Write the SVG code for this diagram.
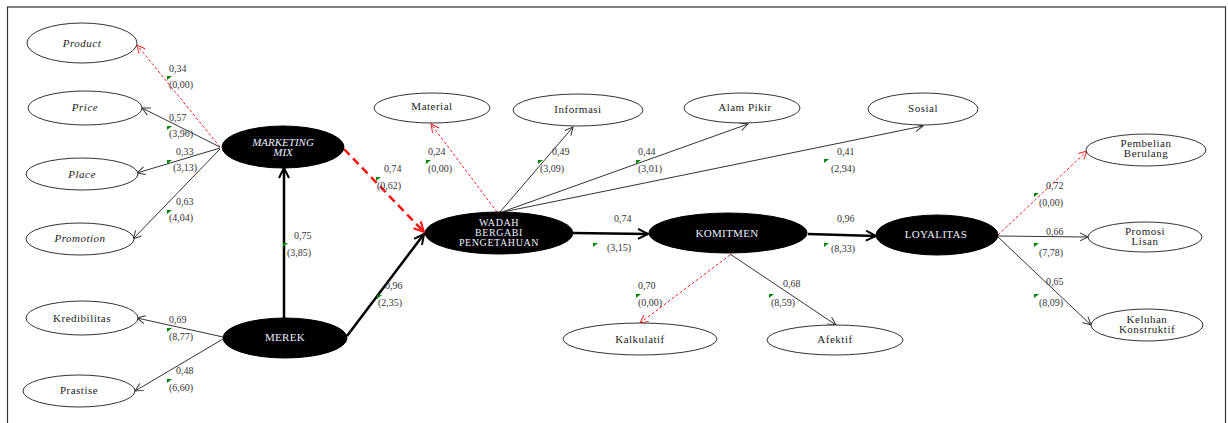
<svg xmlns="http://www.w3.org/2000/svg" xmlns:xlink="http://www.w3.org/1999/xlink" width="1228" height="423" viewBox="0 0 1228 423">
<style>
.ind{fill:#fff;stroke:#333;stroke-width:1}
.lat{fill:#000;stroke:#000;stroke-width:1}
.it{font-family:"Liberation Serif","Times New Roman",serif;font-size:11px;font-style:italic;fill:#222;text-anchor:middle;letter-spacing:0.5px}
.nt{font-family:"Liberation Serif","Times New Roman",serif;font-size:11px;fill:#222;text-anchor:middle;letter-spacing:0.5px}
.lt{font-family:"Liberation Serif","Times New Roman",serif;font-size:11px;fill:#eef;text-anchor:middle;letter-spacing:0.3px}
.lts{font-family:"Liberation Serif","Times New Roman",serif;font-size:10px;fill:#eef;text-anchor:middle;letter-spacing:0.6px}
.lti{font-family:"Liberation Serif","Times New Roman",serif;font-size:11px;font-style:italic;fill:#eef;text-anchor:middle}
.el{font-family:"Liberation Serif","Times New Roman",serif;font-size:10px;fill:#333}
.thin{stroke:#333;stroke-width:1;fill:none;marker-end:url(#aThin)}
.thick{stroke:#000;stroke-width:2.5;fill:none;marker-end:url(#aThick)}
.rthin{stroke:#f22;stroke-width:1;fill:none;stroke-dasharray:3,2;marker-end:url(#aRed)}
.rthick{stroke:#f11;stroke-width:2.5;fill:none;stroke-dasharray:8,5;marker-end:url(#aRedThick)}
</style>
<defs>
<marker id="aThin" markerUnits="userSpaceOnUse" markerWidth="12" markerHeight="12" refX="9" refY="5" orient="auto"><path d="M1,1 L9,5 L1,9" fill="none" stroke="#333" stroke-width="1"/></marker>
<marker id="aThick" markerUnits="userSpaceOnUse" markerWidth="14" markerHeight="14" refX="11" refY="6" orient="auto"><path d="M1,1 L11,6 L1,11" fill="none" stroke="#000" stroke-width="2"/></marker>
<marker id="aRed" markerUnits="userSpaceOnUse" markerWidth="12" markerHeight="12" refX="9" refY="5" orient="auto"><path d="M1,1 L9,5 L1,9" fill="none" stroke="#f22" stroke-width="1"/></marker>
<marker id="aRedThick" markerUnits="userSpaceOnUse" markerWidth="14" markerHeight="14" refX="11" refY="6" orient="auto"><path d="M1,1 L11,6 L1,11" fill="none" stroke="#f11" stroke-width="2"/></marker>
<path id="g" d="M0,0h5l-5,4z" fill="#080"/>
</defs>
<rect x="0" y="0" width="1228" height="423" fill="#fff"/>
<rect x="7.5" y="7" width="1218" height="430" fill="none" stroke="#333" stroke-width="1.2"/>

<g id="connectors">
<line class="rthin" x1="220" y1="147" x2="137" y2="45"/>
<line class="thin" x1="220" y1="147" x2="142" y2="108"/>
<line class="thin" x1="220" y1="148" x2="137" y2="173"/>
<line class="thin" x1="220" y1="149" x2="133" y2="239"/>
<line class="thick" x1="284" y1="318" x2="284" y2="168"/>
<line class="thin" x1="223" y1="337" x2="137" y2="318"/>
<line class="thin" x1="223" y1="339" x2="135" y2="391"/>
<line class="thick" x1="347" y1="336" x2="424" y2="234"/>
<line class="rthick" x1="344" y1="149" x2="424" y2="232"/>
<line class="rthin" x1="497" y1="212" x2="431" y2="124"/>
<line class="thin" x1="500" y1="212" x2="573" y2="127"/>
<line class="thin" x1="502" y1="212" x2="748" y2="124"/>
<line class="thin" x1="503" y1="212" x2="923" y2="126"/>
<line class="thick" x1="573" y1="233" x2="648" y2="234"/>
<line class="thick" x1="808" y1="234" x2="876" y2="236"/>
<line class="rthin" x1="730" y1="255" x2="640" y2="323"/>
<line class="thin" x1="730" y1="254" x2="836" y2="325"/>
<line class="rthin" x1="998" y1="235" x2="1087" y2="151"/>
<line class="thin" x1="998" y1="236" x2="1088" y2="237"/>
<line class="thin" x1="998" y1="237" x2="1091" y2="325"/>
</g>

<g id="edge-labels">
<text class="el" x="169" y="72">0,34</text><use href="#g" x="167" y="76"/><text class="el" x="169" y="88">(0,00)</text>
<text class="el" x="169" y="121">0,57</text><use href="#g" x="167" y="126"/><text class="el" x="169" y="137">(3,96)</text>
<text class="el" x="176" y="155">0,33</text><use href="#g" x="167" y="160"/><text class="el" x="173" y="171">(3,13)</text>
<text class="el" x="176" y="205">0,63</text><use href="#g" x="167" y="210"/><text class="el" x="169" y="221">(4,04)</text>
<text class="el" x="294" y="239">0,75</text><use href="#g" x="283" y="243"/><text class="el" x="287" y="256">(3,85)</text>
<text class="el" x="385" y="289">0,96</text><use href="#g" x="377" y="295"/><text class="el" x="378" y="306">(2,35)</text>
<text class="el" x="169" y="323">0,69</text><use href="#g" x="167" y="328"/><text class="el" x="169" y="340">(8,77)</text>
<text class="el" x="176" y="374">0,48</text><use href="#g" x="167" y="379"/><text class="el" x="169" y="391">(6,60)</text>
<text class="el" x="384" y="172">0,74</text><use href="#g" x="376" y="177"/><text class="el" x="377" y="189">(0,62)</text>
<text class="el" x="428" y="155">0,24</text><use href="#g" x="426" y="160"/><text class="el" x="428" y="172">(0,00)</text>
<text class="el" x="552" y="155">0,49</text><use href="#g" x="538" y="160"/><text class="el" x="540" y="172">(3,09)</text>
<text class="el" x="638" y="155">0,44</text><use href="#g" x="636" y="160"/><text class="el" x="638" y="172">(3,01)</text>
<text class="el" x="837" y="155">0,41</text><use href="#g" x="824" y="159"/><text class="el" x="831" y="172">(2,94)</text>
<text class="el" x="614" y="222">0,74</text><use href="#g" x="593" y="243"/><text class="el" x="607" y="251">(3,15)</text>
<text class="el" x="837" y="222">0,96</text><use href="#g" x="824" y="243"/><text class="el" x="831" y="252">(8,33)</text>
<text class="el" x="638" y="289">0,70</text><use href="#g" x="636" y="294"/><text class="el" x="638" y="306">(0,00)</text>
<text class="el" x="783" y="287">0,68</text><use href="#g" x="769" y="294"/><text class="el" x="771" y="306">(8,59)</text>
<text class="el" x="1046" y="189">0,72</text><use href="#g" x="1034" y="193"/><text class="el" x="1039" y="206">(0,00)</text>
<text class="el" x="1046" y="235">0,66</text><use href="#g" x="1034" y="243"/><text class="el" x="1039" y="256">(7,78)</text>
<text class="el" x="1046" y="285">0,65</text><use href="#g" x="1034" y="294"/><text class="el" x="1039" y="306">(8,09)</text>
</g>

<g id="product"><ellipse class="ind" cx="82" cy="43" rx="55" ry="20"/><text class="it" x="82" y="47">Product</text></g>
<g id="price"><ellipse class="ind" cx="85" cy="108" rx="57" ry="17"/><text class="it" x="85" y="111">Price</text></g>
<g id="place"><ellipse class="ind" cx="82" cy="174" rx="56" ry="16"/><text class="it" x="82" y="178">Place</text></g>
<g id="promotion"><ellipse class="ind" cx="80" cy="239" rx="54" ry="16"/><text class="it" x="80" y="242">Promotion</text></g>
<g id="kredibilitas"><ellipse class="ind" cx="82" cy="318" rx="56" ry="17"/><text class="nt" x="82" y="322">Kredibilitas</text></g>
<g id="prastise"><ellipse class="ind" cx="79" cy="391" rx="56" ry="16"/><text class="nt" x="79" y="394">Prastise</text></g>
<g id="marketing-mix"><ellipse class="lat" cx="283" cy="147" rx="61" ry="21"/><text class="lti" x="283" y="146">MARKETING</text><text class="lti" x="283" y="156">MIX</text></g>
<g id="merek"><ellipse class="lat" cx="285" cy="338" rx="62" ry="20"/><text class="lt" x="285" y="341">MEREK</text></g>
<g id="material"><ellipse class="ind" cx="432" cy="108" rx="58" ry="15"/><text class="nt" x="432" y="110">Material</text></g>
<g id="informasi"><ellipse class="ind" cx="578" cy="110" rx="65" ry="16"/><text class="nt" x="578" y="113">Informasi</text></g>
<g id="alam-pikir"><ellipse class="ind" cx="742" cy="108" rx="58" ry="15"/><text class="nt" x="745" y="111">Alam Pikir</text></g>
<g id="sosial"><ellipse class="ind" cx="923" cy="109" rx="55" ry="16"/><text class="nt" x="923" y="112">Sosial</text></g>
<g id="wadah"><ellipse class="lat" cx="499" cy="233" rx="74" ry="21"/><text class="lts" x="499" y="226">WADAH</text><text class="lts" x="499" y="236">BERGABI</text><text class="lts" x="499" y="246">PENGETAHUAN</text></g>
<g id="komitmen"><ellipse class="lat" cx="728" cy="233" rx="79" ry="20"/><text class="lt" x="727" y="237">KOMITMEN</text></g>
<g id="loyalitas"><ellipse class="lat" cx="937" cy="235" rx="61" ry="20"/><text class="lt" x="936" y="238">LOYALITAS</text></g>
<g id="kalkulatif"><ellipse class="ind" cx="640" cy="339" rx="77" ry="16"/><text class="nt" x="640" y="343">Kalkulatif</text></g>
<g id="afektif"><ellipse class="ind" cx="835" cy="340" rx="68" ry="15"/><text class="nt" x="835" y="343">Afektif</text></g>
<g id="pembelian-berulang"><ellipse class="ind" cx="1146" cy="150" rx="60" ry="16"/><text class="nt" x="1146" y="147">Pembelian</text><text class="nt" x="1146" y="157">Berulang</text></g>
<g id="promosi-lisan"><ellipse class="ind" cx="1145" cy="237" rx="57" ry="15"/><text class="nt" x="1145" y="235">Promosi</text><text class="nt" x="1145" y="245">Lisan</text></g>
<g id="keluhan-konstruktif"><ellipse class="ind" cx="1147" cy="325" rx="56" ry="16"/><text class="nt" x="1147" y="323">Keluhan</text><text class="nt" x="1147" y="333">Konstruktif</text></g>
</svg>
